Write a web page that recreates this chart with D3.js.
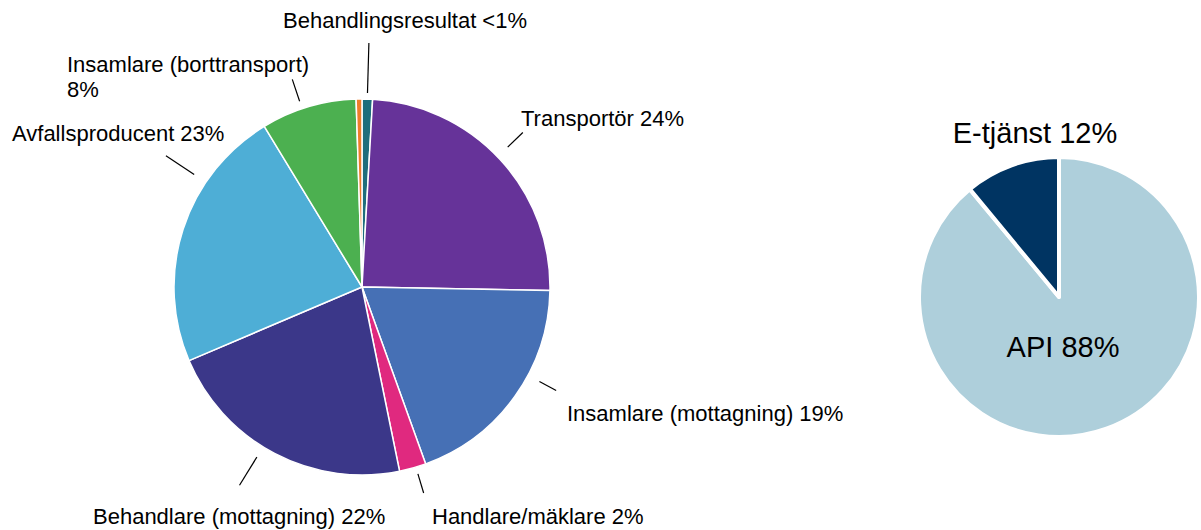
<!DOCTYPE html>
<html>
<head>
<meta charset="utf-8">
<script src="https://cdn.jsdelivr.net/npm/d3@7"></script>
<style>
	body { margin: 0; background: #fff; }
	text { font-family: "Liberation Sans", Arial, sans-serif; fill: #000; }
</style>
</head>
<body>
<svg id="chart" width="1201" height="530"></svg>
<script>
"use strict"

// left pie: roles, clockwise from 12 o'clock
var roles = ["Behandlingsresultat", "Transportör", "Insamlare (mottagning)", "Handlare/mäklare",
	"Behandlare (mottagning)", "Avfallsproducent", "Insamlare (borttransport)", "Övrigt"];
var roleShare = [0.9, 24.4, 19.2, 2.3, 21.8, 22.7, 8.2, 0.5];
var roleColors = ["#1f6e7c", "#663399", "#4670b5", "#e0297f", "#3b3789", "#4eaed6", "#4cb050", "#ef7d2a"];
var roleLabels = [["Behandlingsresultat <1%"], ["Transportör 24%"], ["Insamlare (mottagning) 19%"],
	["Handlare/mäklare 2%"], ["Behandlare (mottagning) 22%"], ["Avfallsproducent 23%"],
	["Insamlare (borttransport)", "8%"], []];

// right pie: channel
var channels = ["API", "E-tjänst"];
var channelShare = [89, 11];
var channelColors = ["#aecfdb", "#003462"];
var channelLabels = ["API 88%", "E-tjänst 12%"];

// label layout for the left pie: text x, baseline y, leader angle nudge (deg), leader start/end offset
var labelLayout = [
	{x: 283, y: 28, nudge: 0, r0: 6, r1: 56},
	{x: 521, y: 126, nudge: -1, r0: 14, r1: 35},
	{x: 567, y: 421, nudge: -7.6, r0: 13, r1: 32},
	{x: 432, y: 524, nudge: -1, r0: 7, r1: 27},
	{x: 93, y: 524, nudge: 4, r0: 12, r1: 45},
	{x: 12, y: 141, nudge: 16, r0: 14, r1: 48},
	{x: 67, y: 72, nudge: -2, r0: 8, r1: 31},
	null
];

var svg = d3.select("#chart");

//
// left pie
//
var cx1 = 362, cy1 = 287, r1 = 188;
var pie1 = d3.pie().sort(null).value(function(d) { return d; });
var arcs1 = pie1(roleShare);
var arc1 = d3.arc().innerRadius(0).outerRadius(r1);

var g1 = svg.append("g").attr("transform", "translate(" + cx1 + "," + cy1 + ")");
g1.selectAll("path")
	.data(arcs1)
	.enter().append("path")
	.attr("d", arc1)
	.attr("fill", function(d, i) { return roleColors[i]; })
	.attr("stroke", "#fff")
	.attr("stroke-width", 1.5)
	.attr("stroke-linejoin", "round")
	;

arcs1.forEach(function(d, i) {
	var lay = labelLayout[i];
	if (!lay) return;
	var a = (d.startAngle + d.endAngle) / 2 + lay.nudge * Math.PI / 180;
	var s = Math.sin(a), c = -Math.cos(a);
	g1.append("line")
		.attr("x1", s * (r1 + lay.r0)).attr("y1", c * (r1 + lay.r0))
		.attr("x2", s * (r1 + lay.r1)).attr("y2", c * (r1 + lay.r1))
		.attr("stroke", "#000")
		.attr("stroke-width", 1.2)
		;
	var t = svg.append("text")
		.attr("x", lay.x).attr("y", lay.y)
		.style("font-size", "22px")
		;
	roleLabels[i].forEach(function(line, k) {
		t.append("tspan").attr("x", lay.x).attr("dy", k == 0 ? 0 : 25).text(line);
	});
});

//
// right pie
//
var cx2 = 1059, cy2 = 297, r2 = 140;
var pie2 = d3.pie().sort(null).value(function(d) { return d; });
var arcs2 = pie2(channelShare);
var arc2 = d3.arc().innerRadius(0).outerRadius(r2);

var g2 = svg.append("g").attr("transform", "translate(" + cx2 + "," + cy2 + ")");
g2.selectAll("path")
	.data(arcs2)
	.enter().append("path")
	.attr("d", arc2)
	.attr("fill", function(d, i) { return channelColors[i]; })
	.attr("stroke", "#fff")
	.attr("stroke-width", 4)
	.attr("stroke-linejoin", "round")
	;

svg.append("text")
	.attr("x", 1063).attr("y", 357)
	.attr("text-anchor", "middle")
	.style("font-size", "29px")
	.text(channelLabels[0]);
svg.append("text")
	.attr("x", 1035).attr("y", 143)
	.attr("text-anchor", "middle")
	.style("font-size", "29px")
	.text(channelLabels[1]);
</script>
</body>
</html>
